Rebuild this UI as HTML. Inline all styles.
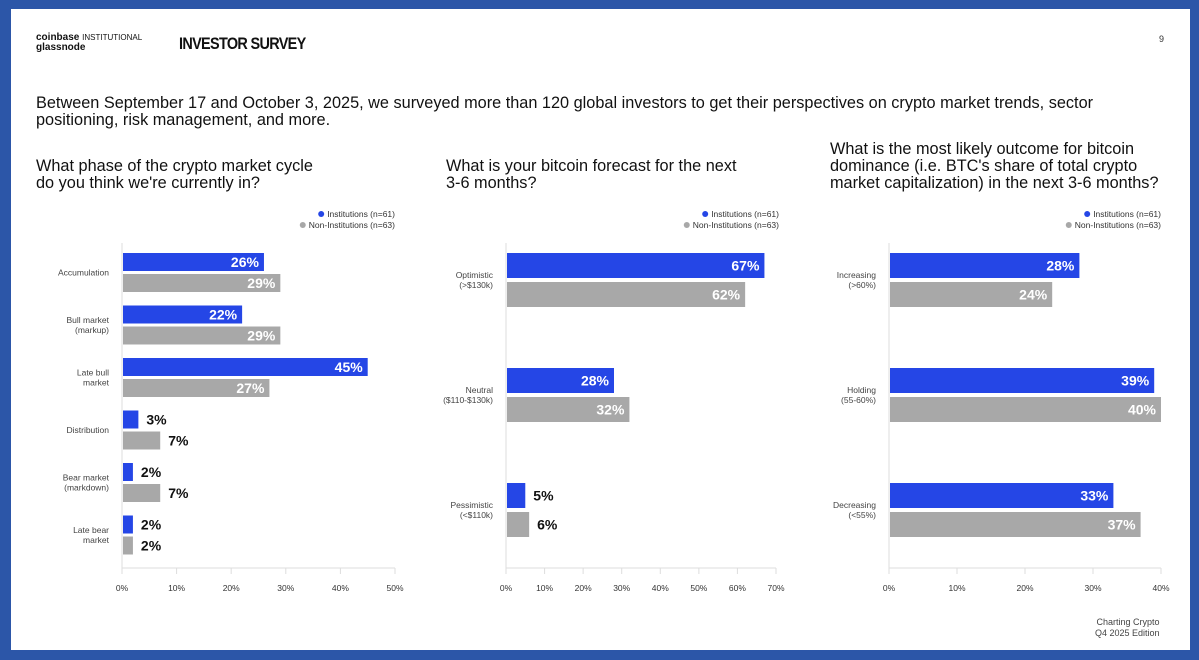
<!DOCTYPE html>
<html><head><meta charset="utf-8"><style>
body{margin:0;width:1199px;height:660px;background:#2c56a8;overflow:hidden;font-family:"Liberation Sans",sans-serif}
#panel{position:absolute;left:11px;top:9px;width:1179px;height:641px;background:#fff}
.t{position:absolute;color:#111;white-space:nowrap}
</style></head><body>
<div id="panel"></div>
<div class="t" style="left:36px;top:33px;font-size:10px;font-weight:bold;line-height:10px">coinbase <span style="font-weight:normal;font-size:8px">INSTITUTIONAL</span><br>glassnode</div>
<div class="t" style="left:179px;top:34px;font-size:17px;font-weight:bold;letter-spacing:-0.8px;transform:scaleX(0.85);transform-origin:left">INVESTOR SURVEY</div>
<div class="t" style="left:1159px;top:34px;font-size:9px;color:#333">9</div>
<div class="t" style="left:36px;top:95px;font-size:16.3px;line-height:17px">Between September 17 and October 3, 2025, we surveyed more than 120 global investors to get their perspectives on crypto market trends, sector<br>positioning, risk management, and more.</div>
<div class="t" style="left:36px;top:158px;font-size:16.3px;line-height:17px">What phase of the crypto market cycle<br>do you think we're currently in?</div>
<div class="t" style="left:446px;top:158px;font-size:16.3px;line-height:17px">What is your bitcoin forecast for the next<br>3-6 months?</div>
<div class="t" style="left:830px;top:141px;font-size:16.3px;line-height:17px">What is the most likely outcome for bitcoin<br>dominance (i.e. BTC's share of total crypto<br>market capitalization) in the next 3-6 months?</div>
<div class="t" style="left:1095px;top:617px;font-size:9px;line-height:11px;color:#444;text-align:right">Charting Crypto<br>Q4 2025 Edition</div>
<svg id="chart" width="1199" height="660" style="position:absolute;left:0;top:0"></svg>
<script>
const c1Cats=["Accumulation","Bull market|(markup)","Late bull|market","Distribution","Bear market|(markdown)","Late bear|market"];
const c1Inst=[26,22,45,3,2,2];
const c1Non=[29,29,27,7,7,2];
const c1Ticks=[0,10,20,30,40,50];
const c2Cats=["Optimistic|(>$130k)","Neutral|($110-$130k)","Pessimistic|(<$110k)"];
const c2Inst=[67,28,5];
const c2Non=[62,32,6];
const c2Ticks=[0,10,20,30,40,50,60,70];
const c3Cats=["Increasing|(>60%)","Holding|(55-60%)","Decreasing|(<55%)"];
const c3Inst=[28,39,33];
const c3Non=[24,40,37];
const c3Ticks=[0,10,20,30,40];
const NS="http://www.w3.org/2000/svg",svg=document.getElementById('chart');
function mk(t,a,txt){const e=document.createElementNS(NS,t);for(const k in a)e.setAttribute(k,a[k]);if(txt!=null)e.textContent=txt;svg.appendChild(e);return e;}
function chart(id,cats,inst,non,ticks,x0,x1,firstC,step,bh,gap,lgx){
  const max=ticks[ticks.length-1];const sx=v=>x0+(x1-x0)*v/max;
  let l=mk('line',{x1:x0,y1:243,x2:x0,y2:568,stroke:'#ddd'});
  
  l=mk('line',{x1:x0,y1:568,x2:x1,y2:568,stroke:'#ddd'});
  
  ticks.forEach(t=>{const x=sx(t);mk('line',{x1:x,y1:568,x2:x,y2:574,stroke:'#ddd'});
    const e=mk('text',{x:x,y:591,'font-size':8.5,fill:'#333','text-anchor':'middle'},t+'%');
    });
  cats.forEach((c,i)=>{const cy=firstC+i*step;const parts=c.split('|');
    parts.forEach((p,j)=>{const e=mk('text',{x:x0-13,y:cy+3+(j-(parts.length-1)/2)*10,'font-size':8.5,fill:'#444','text-anchor':'end'},p);
      });
    [[inst[i],'#2546e6',cy-gap/2-bh],[non[i],'#a8a8a8',cy+gap/2]].forEach(([v,col,y],k)=>{
      const r=mk('rect',{x:x0+1,y:y,width:sx(v)-x0-1,height:bh,fill:col});
      
      
      const inside=v>=10;
      const tx=mk('text',{x:inside?sx(v)-5:sx(v)+8,y:y+bh/2+5,'font-size':14,'font-weight':'bold',fill:inside?'#fff':'#111','text-anchor':inside?'end':'start'},v+'%');
      
    });
  });
  [['Institutions (n=61)','#2546e6',217],['Non-Institutions (n=63)','#a8a8a8',228]].forEach(([t,col,y])=>{
    const d=mk('circle',{cx:0,cy:y-3,r:3,fill:col});
    const e=mk('text',{x:lgx,y:y,'font-size':8.5,fill:'#333','text-anchor':'end'},t);
    
    d.setAttribute('cx',lgx-e.getComputedTextLength()-6);
    
  });
}
chart('phase-chart',c1Cats,c1Inst,c1Non,c1Ticks,122,395,272.5,52.5,18,3,395);
chart('forecast-chart',c2Cats,c2Inst,c2Non,c2Ticks,506,776,280,115,25,4,779);
chart('dominance-chart',c3Cats,c3Inst,c3Non,c3Ticks,889,1161,280,115,25,4,1161);
</script>
</body></html>
